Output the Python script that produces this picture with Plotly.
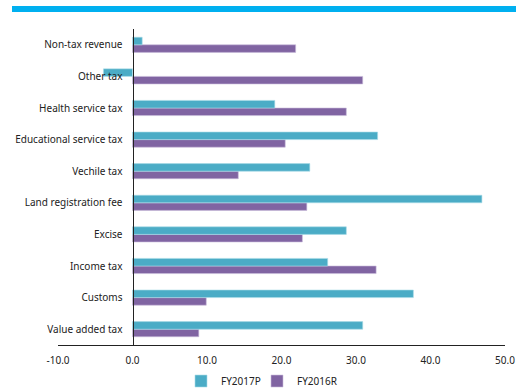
import plotly.graph_objects as go

# Revenue categories, listed bottom to top as they appear on the axis
categories = [
    "Value added tax",
    "Customs",
    "Income tax",
    "Excise",
    "Land registration fee",
    "Vechile tax",
    "Educational service tax",
    "Health service tax",
    "Other tax",
    "Non-tax revenue",
]
fy2017p = [30.9, 37.7, 26.2, 28.7, 46.9, 23.8, 32.9, 19.1, -3.9, 1.3]
fy2016r = [8.9, 9.9, 32.7, 22.8, 23.4, 14.2, 20.5, 28.7, 30.9, 21.9]
x_ticks = [-10, 0, 10, 20, 30, 40, 50]
x_tick_text = ["-10.0", "0.0", "10.0", "20.0", "30.0", "40.0", "50.0"]

TEAL = "#4BACC6"
PURPLE = "#8064A2"
FONT = "Noto Sans"
TEXT = "#222222"

fig = go.Figure()
# Horizontal grouped bars stack first trace lowest, so FY2016R goes in first
fig.add_trace(go.Bar(
    y=categories, x=fy2016r, orientation="h", name="FY2016R", legend="legend2",
    marker=dict(color=PURPLE, line=dict(color="#C9BCDB", width=0.6)),
))
fig.add_trace(go.Bar(
    y=categories, x=fy2017p, orientation="h", name="FY2017P", legend="legend",
    marker=dict(color=TEAL, line=dict(color="#A9DCE8", width=0.6)),
))

legend_common = dict(
    orientation="h", yanchor="middle", y=-0.114, xanchor="left",
    font=dict(family=FONT, size=10, color=TEXT), itemwidth=30,
    bgcolor="rgba(0,0,0,0)",
)

fig.update_layout(
    width=516, height=389,
    margin=dict(l=58, r=11, t=29, b=44, autoexpand=False),
    paper_bgcolor="white", plot_bgcolor="white",
    barmode="group", bargap=0.52, bargroupgap=0,
    font=dict(family=FONT, size=10, color=TEXT),
    xaxis=dict(
        range=[-10, 50], tickvals=x_ticks, ticktext=x_tick_text,
        showgrid=False, zeroline=False, automargin=False,
        showline=True, linecolor=TEXT, linewidth=1,
        ticks="", ticklabelstandoff=6,
        tickfont=dict(family=FONT, size=10, color=TEXT),
    ),
    yaxis=dict(
        type="category", categoryorder="array", categoryarray=categories,
        anchor="free", position=1 / 6, automargin=False,
        showgrid=False, zeroline=False,
        showline=True, linecolor=TEXT, linewidth=1,
        ticks="", ticklabelstandoff=8,
        tickfont=dict(family=FONT, size=10, color=TEXT),
    ),
    legend=dict(x=(181 - 58) / 447, **legend_common),
    legend2=dict(x=(257 - 58) / 447, **legend_common),
    showlegend=True,
)

# Blue header band across the top of the page
fig.add_shape(
    type="rect", xref="paper", yref="paper",
    x0=(12 - 58) / 447, x1=(516 - 58) / 447,
    y0=(345 - 12) / 316, y1=(345 - 6) / 316,
    fillcolor="#00B0F0", line=dict(width=0), layer="above",
)

fig.write_html("out.html")
